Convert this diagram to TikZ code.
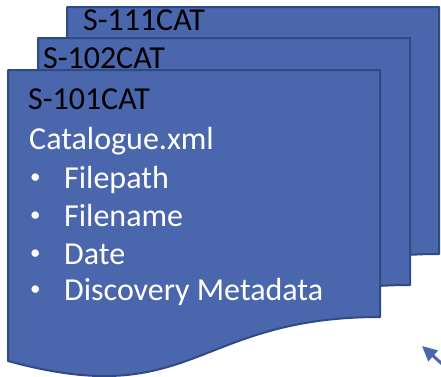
\documentclass[tikz,border=0pt]{standalone}
\usepackage{fontspec}
\setmainfont{Carlito}
\usetikzlibrary{arrows.meta}
\definecolor{docfill}{HTML}{4A66AC}
\definecolor{docline}{HTML}{2F4B85}
\tikzset{
  doc/.style={fill=docfill, draw=docline, line width=2pt, line join=round},
  lbl/.style={anchor=base west, inner sep=0pt, font=\fontsize{32}{38}\selectfont},
  item/.style={lbl, text=white},
  dot/.style={anchor=base west, inner sep=0pt, text=white, font=\fontsize{21}{25}\selectfont},
  arr/.style={-{Triangle[length=15pt,width=14pt]}, line width=3pt, draw=docfill},
}
% one catalogue sheet, wavy bottom
\newcommand{\catdoc}{\draw[doc] (0,0) -- (372,0) -- (372,247)
  .. controls (186,247) and (186,342) .. (0,291) -- cycle;}

\begin{document}
\begin{tikzpicture}[x=1pt, y=-1pt]
    \useasboundingbox (0,0) rectangle (441,376);

    % back sheet
    \begin{scope}[shift={(67,7)}]
        \catdoc
    \end{scope}
    \node[lbl] (cat111) at (83,30) {S-111CAT};

    % middle sheet
    \begin{scope}[shift={(38,38)}]
        \catdoc
    \end{scope}
    \node[lbl] (cat102) at (43,68) {S-102CAT};

    % front sheet
    \begin{scope}[shift={(8,70)}]
        \catdoc
    \end{scope}
    \node[lbl] (cat101) at (28,109) {S-101CAT};
    \node[item] (xml) at (29,149) {Catalogue.xml};

    % list of fields
    \node[dot] (b1) at (30,183) {•};
    \node[item] (path) at (64,188) {Filepath};
    \node[dot] (b2) at (30,221.5) {•};
    \node[item] (name) at (64,226.5) {Filename};
    \node[dot] (b3) at (30,259) {•};
    \node[item] (date) at (64,264) {Date};
    \node[dot] (b4) at (30,295.5) {•};
    \node[item] (meta) at (64,300.5) {Discovery Metadata};

    % incoming arrow, cut by the frame
    \coordinate (tail) at (459,379);
    \coordinate (tip) at (422,346);
    \draw[arr] (tail) -- (tip);
\end{tikzpicture}
\end{document}
